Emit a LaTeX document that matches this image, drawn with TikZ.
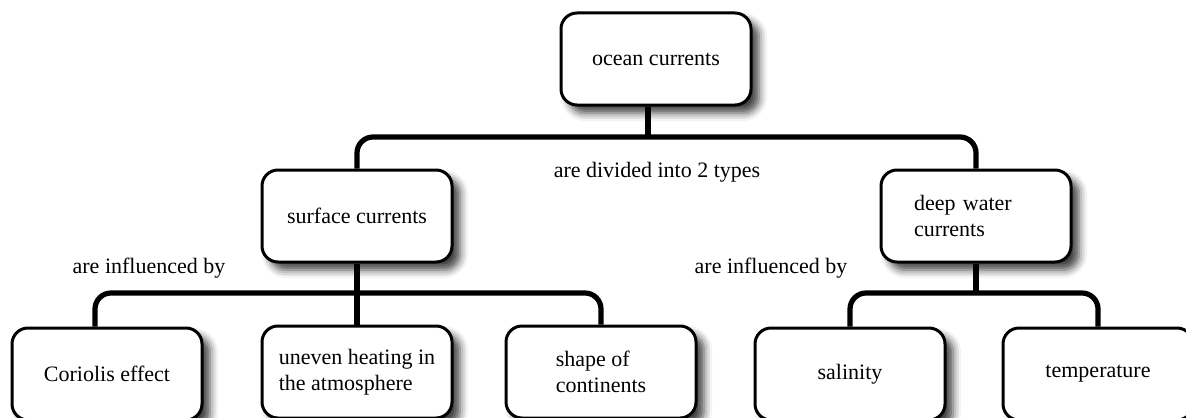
\documentclass[tikz,border=0pt]{standalone}
\usepackage{fontspec}
\setmainfont{Liberation Serif}
\usetikzlibrary{shadows.blur}

\tikzset{
  concept/.style={draw, line width=1.5pt, rounded corners=8pt, fill=white,
    minimum width=95pt, minimum height=46pt, inner sep=3pt,
    font=\fontsize{11}{13}\selectfont,
    blur shadow={shadow xshift=4pt, shadow yshift=-4pt, shadow blur radius=4pt, shadow opacity=75}},
  link/.style={line width=2.6pt, rounded corners=8pt},
  linktext/.style={font=\fontsize{11}{13}\selectfont}
}

\begin{document}
\begin{tikzpicture}[x=0.5pt, y=-0.5pt]
    \useasboundingbox (0,0) rectangle (1186,417);
    % top level
    \node[concept] (ocean) at (656,59) {ocean currents};
    \node[concept] (surface) at (357,216) {surface currents};
    \node[concept, align=left, text width=62pt] (deep) at (976,216) {deep water\\currents};
    % bottom row, cut by the page edge
    \node[concept] (coriolis) at (107,374) {Coriolis effect};
    \node[concept, align=left] (uneven) at (357,372) {uneven heating in\\the atmosphere};
    \node[concept, align=left] (shape) at (601,372) {shape of\\continents};
    \node[concept] (salinity) at (850,374) {salinity};
    \node[concept] (temperature) at (1098,374) {temperature};

    \coordinate (bar1) at (648,137);
    \coordinate (bar2) at (352,293);
    \coordinate (bar3) at (971,293);

    \draw[link] (bar1 |- ocean.south) -- (bar1);
    \draw[link] (surface.north) |- (bar1) -| (deep.north);
    \draw[link] (surface.south) -- (uneven.north);
    \draw[link] ([xshift=-6pt]coriolis.north) |- (bar2) -| (shape.north);
    \draw[link] (deep.south) -- (deep.south |- bar3);
    \draw[link] (salinity.north) |- (bar3) -| (temperature.north);

    \node[linktext] (divided) at (657,172) {are divided into 2 types};
    \node[linktext] (inflLeft) at (149,268) {are influenced by};
    \node[linktext] (inflRight) at (771,268) {are influenced by};
\end{tikzpicture}
\end{document}
